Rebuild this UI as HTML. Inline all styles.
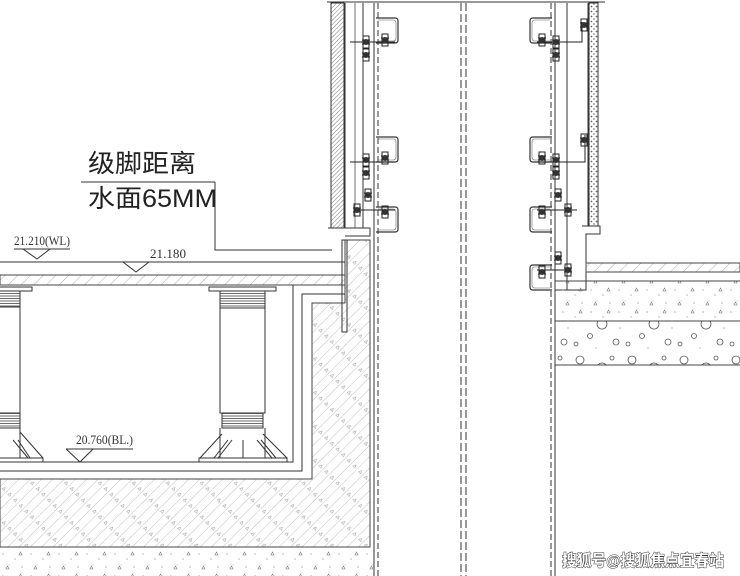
<!DOCTYPE html>
<html><head><meta charset="utf-8"><style>
html,body{margin:0;padding:0;background:#fff;}
svg{display:block;}
.s{font-family:"Liberation Sans","Noto Sans CJK SC",sans-serif;}
.r{font-family:"Liberation Serif","Noto Serif CJK SC",serif;}
</style></head><body>
<svg width="740" height="576" viewBox="0 0 740 576" xmlns="http://www.w3.org/2000/svg">
<defs>
<pattern id="hatch" width="9" height="9" patternUnits="userSpaceOnUse" patternTransform="rotate(45)">
<line x1="0" y1="0" x2="0" y2="9" stroke="#999" stroke-width="0.8"/></pattern>
<pattern id="hatchC" width="8" height="24" patternUnits="userSpaceOnUse" patternTransform="rotate(45)">
<line x1="0" y1="0" x2="0" y2="24" stroke="#b0b0b0" stroke-width="0.8"/>
<path d="M3 8 l3 0 l-1.5 -3z" fill="none" stroke="#aaa" stroke-width="0.6"/></pattern>
<pattern id="dense" width="3" height="3" patternUnits="userSpaceOnUse" patternTransform="rotate(45)">
<line x1="0" y1="0" x2="0" y2="3" stroke="#555" stroke-width="0.8"/></pattern>
<pattern id="thread" width="4" height="2.5" patternUnits="userSpaceOnUse">
<line x1="0" y1="1" x2="4" y2="1" stroke="#444" stroke-width="0.8"/></pattern>
<pattern id="dots" width="5" height="5" patternUnits="userSpaceOnUse">
<circle cx="1.5" cy="1.5" r="0.9" fill="#666"/><circle cx="4" cy="4" r="0.9" fill="#888"/></pattern>
<pattern id="grav" width="28" height="22" patternUnits="userSpaceOnUse">
<circle cx="3" cy="4" r="0.6" fill="#888"/><circle cx="15" cy="9" r="0.6" fill="#888"/><circle cx="22" cy="17" r="0.6" fill="#888"/><circle cx="9" cy="15" r="0.5" fill="#999"/>
<path d="M19 5 l3 0 l-1.5 -3z" fill="none" stroke="#777" stroke-width="0.6"/><path d="M6 19 l3 0 l-1.5 -3z" fill="none" stroke="#777" stroke-width="0.6"/></pattern>
<pattern id="bub" width="52" height="44" patternUnits="userSpaceOnUse">
<circle cx="8" cy="8" r="4" fill="none" stroke="#555" stroke-width="0.8"/><circle cx="30" cy="16" r="5" fill="none" stroke="#555" stroke-width="0.8"/>
<circle cx="18" cy="28" r="2.5" fill="none" stroke="#555" stroke-width="0.8"/><circle cx="44" cy="34" r="3" fill="none" stroke="#555" stroke-width="0.8"/>
<circle cx="40" cy="6" r="2" fill="none" stroke="#555" stroke-width="0.8"/><circle cx="4" cy="36" r="2" fill="none" stroke="#555" stroke-width="0.8"/>
<circle cx="24" cy="40" r="0.6" fill="#888"/><circle cx="48" cy="20" r="0.6" fill="#888"/></pattern>
<g id="box"><path d="M22 0 H3 Q0 0 0 3 V22 Q0 25 3 25 H22" fill="none" stroke="#333" stroke-width="1.2"/><path d="M20 2 H5 Q2 2 2 5 V20 Q2 23 5 23 H20" fill="none" stroke="#666" stroke-width="0.6"/></g>
<g id="bolt"><rect x="-3" y="-6" width="6" height="12" fill="none" stroke="#222"/><line x1="-4" y1="-2" x2="4" y2="-2" stroke="#222"/><line x1="-4" y1="2" x2="4" y2="2" stroke="#222"/><circle cx="0" cy="0" r="3" fill="#333"/></g>
</defs>

<g stroke="#333" fill="none" stroke-width="1">
<line x1="327" y1="2" x2="605" y2="2"/>
<rect x="331" y="3" width="13" height="225" fill="url(#dense)"/>
<line x1="345" y1="3" x2="345" y2="228"/>
<path d="M328 228 H370 V236 H345" />
<line x1="363" y1="3" x2="363" y2="228"/>
<line x1="374" y1="3" x2="374" y2="576"/>
<line x1="378" y1="3" x2="378" y2="576" stroke-dasharray="6,3"/>
<line x1="461" y1="3" x2="461" y2="576" stroke-dasharray="8,3"/>
<line x1="466" y1="3" x2="466" y2="576" stroke-dasharray="8,3"/>
<line x1="551" y1="3" x2="551" y2="576" stroke-dasharray="6,3"/>
<line x1="555" y1="3" x2="555" y2="576"/>
<line x1="567" y1="3" x2="567" y2="290"/>
<line x1="355" y1="3" x2="355" y2="228" stroke-width="0.7"/>
<rect x="589" y="3" width="9" height="223" fill="url(#dots)"/>
<line x1="588" y1="3" x2="588" y2="226"/>
<path d="M582 226 H600 V234 H586 V290 H555"/>
</g>
<g>
<use href="#box" transform="translate(398,18) scale(-1,1)"/>
<use href="#box" transform="translate(398,137) scale(-1,1)"/>
<use href="#box" transform="translate(398,207) scale(-1,1)"/>
<use href="#box" transform="translate(530,18)"/>
<use href="#box" transform="translate(530,137)"/>
<use href="#box" transform="translate(530,207)"/>
<use href="#box" transform="translate(530,265)"/>
<g stroke="#222" fill="none">
<path d="M350 42 H395 M350 162 H395 M355 210 H395 M537 42 H582 V22 M537 162 H585 V135 M537 210 H577 M537 270 H570"/>
</g>
<use href="#bolt" x="366" y="42"/><use href="#bolt" x="366" y="55"/><use href="#bolt" x="385" y="40"/>
<use href="#bolt" x="366" y="160"/><use href="#bolt" x="366" y="173"/><use href="#bolt" x="385" y="158"/>
<use href="#bolt" x="368" y="195"/><use href="#bolt" x="357" y="210"/><use href="#bolt" x="385" y="212"/>
<use href="#bolt" x="556" y="42"/><use href="#bolt" x="556" y="55"/><use href="#bolt" x="542" y="40"/>
<use href="#bolt" x="556" y="160"/><use href="#bolt" x="556" y="173"/><use href="#bolt" x="542" y="158"/>
<use href="#bolt" x="558" y="195"/><use href="#bolt" x="568" y="210"/><use href="#bolt" x="542" y="212"/>
<use href="#bolt" x="558" y="258"/><use href="#bolt" x="568" y="270"/><use href="#bolt" x="542" y="272"/>
<use href="#bolt" x="584" y="25"/><use href="#bolt" x="584" y="140"/>
</g>

<rect x="586" y="263" width="154" height="9" fill="url(#hatch)" stroke="#444"/>
<rect x="555" y="281" width="185" height="40" fill="url(#grav)"/>
<line x1="555" y1="281" x2="740" y2="281" stroke="#444"/>
<rect x="555" y="321" width="185" height="44" fill="url(#bub)"/>
<line x1="555" y1="321" x2="740" y2="321" stroke="#444"/>
<line x1="555" y1="365" x2="740" y2="365" stroke="#444"/>

<path d="M0 479 H312 V303 H345 V240 H370 V547 H0 Z" fill="url(#hatchC)" stroke="#444"/>
<rect x="0" y="548" width="373" height="28" fill="url(#grav)"/>
<g stroke="#333" fill="none">
<path d="M0 471 H302 V294 H345"/>
<path d="M0 462 H293 V285 H345"/>
<rect x="0" y="275" width="345" height="10" fill="url(#hatch)" stroke="#444"/>
<line x1="0" y1="262" x2="345" y2="262"/>
<rect x="342" y="240" width="5" height="92"/>
<path d="M215 182 V250 H332"/>
<line x1="81" y1="182" x2="215" y2="182"/>
</g>
<g stroke="#333" fill="none">
<rect x="-40" y="287" width="72" height="4"/>
<rect x="-25" y="291" width="45" height="16" fill="url(#thread)"/>
<rect x="-25" y="307" width="45" height="106"/>
<rect x="-25" y="413" width="45" height="15" fill="url(#thread)"/>
<path d="M20 428 V458 M13 440 L28 458 M18 440 L30 458 M20 432 L43 458"/>
<rect x="-40" y="458" width="83" height="4"/>
<rect x="209" y="287" width="67" height="4"/>
<rect x="220" y="291" width="45" height="17" fill="url(#thread)"/>
<rect x="220" y="308" width="45" height="105"/>
<rect x="222" y="413" width="41" height="15" fill="url(#thread)"/>
<path d="M220 428 V458 M265 428 V458 M222 434 L200 458 M228 440 L214 458 M232 440 L218 458 M243 440 V458 M257 440 L272 458 M261 440 L276 458 M263 434 L287 458"/>
<rect x="199" y="458" width="88" height="4"/>
</g>
<g stroke="#333" fill="none">
<line x1="14" y1="249" x2="70" y2="249"/><path d="M23 249 L37 259 L50 249"/>
<path d="M123 262 L136 272 L149 262"/>
<line x1="66" y1="449" x2="133" y2="449"/><path d="M66 449 L80 462 L93 449"/>
</g>
<g class="r" font-size="13" fill="#333">
<text x="14" y="245" textLength="56" lengthAdjust="spacingAndGlyphs">21.210(WL)</text>
<text x="150" y="258" textLength="36" lengthAdjust="spacingAndGlyphs">21.180</text>
<text x="76" y="444" textLength="57" lengthAdjust="spacingAndGlyphs">20.760(BL.)</text>
</g>
<text class="s" x="88" y="172" font-size="25" fill="#222" textLength="108" lengthAdjust="spacingAndGlyphs">级脚距离</text>
<text class="s" x="88" y="207" font-size="25" fill="#222" textLength="129" lengthAdjust="spacingAndGlyphs">水面65MM</text>
<text class="s" x="562" y="566" font-size="16" font-weight="bold" fill="#fff" stroke="#333" stroke-width="1" paint-order="stroke" textLength="162" lengthAdjust="spacingAndGlyphs">搜狐号@搜狐焦点宜春站</text>
</svg>
</body></html>
